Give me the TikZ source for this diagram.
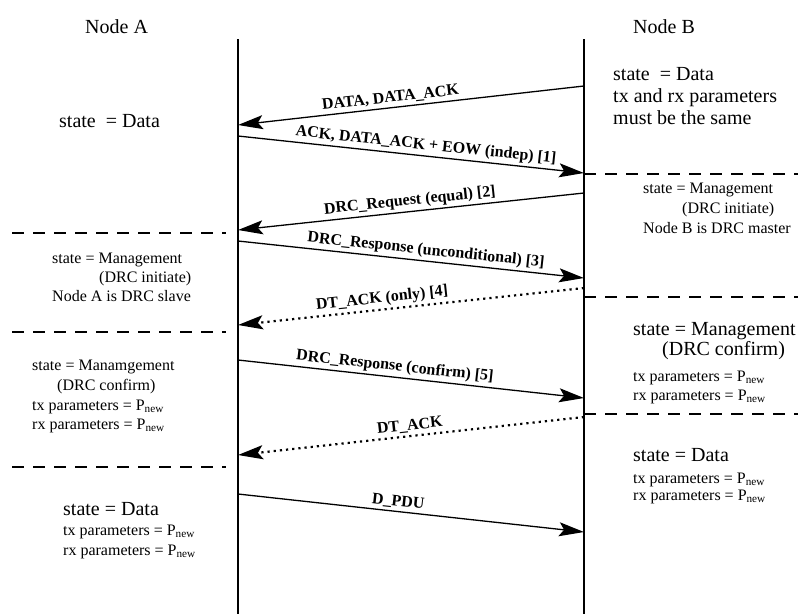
\documentclass[tikz,border=0pt]{standalone}
\usepackage{fontspec}
\setmainfont{Liberation Serif}
\usetikzlibrary{arrows.meta}
\newcommand\Pnw{P\textsubscript{new}}
\begin{document}
\begin{tikzpicture}[x=1pt,y=-1pt,
  bigtxt/.style={font=\fontsize{20}{24}\selectfont, inner sep=0pt, anchor=base west},
  smalltxt/.style={font=\fontsize{16}{19}\selectfont, inner sep=0pt, anchor=base west},
  lbl/.style={font=\fontsize{16}{19}\selectfont\bfseries, sloped, above, inner sep=2.5pt},
  life/.style={line width=1.5pt},
  msg/.style={line width=1.3pt, -{Stealth[length=25pt,width=14pt,inset=5pt]}},
  dotmsg/.style={msg, dash pattern=on 2.2pt off 4pt, line width=2.2pt},
  sep/.style={line width=2pt, dash pattern=on 12pt off 9pt}]
\useasboundingbox (0,0) rectangle (798,614);
% lifelines
\coordinate (Atop) at (238,39); \coordinate (Abot) at (238,614);
\coordinate (Btop) at (584,39); \coordinate (Bbot) at (584,614);
\draw[life] (Atop) -- (Abot);
\draw[life] (Btop) -- (Bbot);
% headers
\node[bigtxt] (hA) at (85,33) {Node A};
\node[bigtxt] (hB) at (633,33) {Node B};
% message end points
\coordinate (b1) at (584,86);  \coordinate (a1) at (238,125);
\coordinate (a2) at (238,136); \coordinate (b2) at (584,173);
\coordinate (b3) at (584,193); \coordinate (a3) at (238,230);
\coordinate (a4) at (238,241); \coordinate (b4) at (584,278);
\coordinate (b5) at (584,288); \coordinate (a5) at (238,325);
\coordinate (a6) at (238,360); \coordinate (b6) at (584,398);
\coordinate (b7) at (584,417); \coordinate (a7) at (238,455);
\coordinate (a8) at (238,494); \coordinate (b8) at (584,532);
% messages
\draw[msg] (b1) -- node[lbl,pos=0.556]{DATA, DATA\_ACK} (a1);
\draw[msg] (a2) -- node[lbl,pos=0.54]{ACK, DATA\_ACK + EOW (indep) [1]} (b2);
\draw[msg] (b3) -- node[lbl,pos=0.5]{DRC\_Request (equal) [2]} (a3);
\draw[msg] (a4) -- node[lbl,pos=0.54]{DRC\_Response (unconditional) [3]} (b4);
\draw[dotmsg] (b5) -- node[lbl,pos=0.58]{DT\_ACK (only) [4]} (a5);
\draw[msg] (a6) -- node[lbl,pos=0.45]{DRC\_Response (confirm) [5]} (b6);
\draw[dotmsg] (b7) -- node[lbl,pos=0.5]{DT\_ACK} (a7);
\draw[msg] (a8) -- node[lbl,pos=0.46]{D\_PDU} (b8);
% separators
\coordinate (l1s) at (12,233); \coordinate (l1e) at (226,233);
\coordinate (l2s) at (12,332); \coordinate (l2e) at (226,332);
\coordinate (l3s) at (12,467); \coordinate (l3e) at (226,467);
\coordinate (r1s) at (584,174); \coordinate (r1e) at (798,174);
\coordinate (r2s) at (584,297); \coordinate (r2e) at (798,297);
\coordinate (r3s) at (584,414); \coordinate (r3e) at (798,414);
\draw[sep] (l1s) -- (l1e);
\draw[sep] (l2s) -- (l2e);
\draw[sep] (l3s) -- (l3e);
\draw[sep] (r1s) -- (r1e);
\draw[sep] (r2s) -- (r2e);
\draw[sep] (r3s) -- (r3e);
% left states
\node[bigtxt] (la1) at (59,127) {state~ = Data};
\node[smalltxt] (la2) at (52,263) {state = Management};
\node[smalltxt] (la3) at (99,282) {(DRC initiate)};
\node[smalltxt] (la4) at (52,301) {Node A is DRC slave};
\node[smalltxt] (la5) at (32,370) {state = Manamgement};
\node[smalltxt] (la6) at (57,390) {(DRC confirm)};
\node[smalltxt] (la7) at (32,410) {tx parameters = \Pnw};
\node[smalltxt] (la8) at (32,429) {rx parameters = \Pnw};
\node[bigtxt] (la9) at (63,515) {state = Data};
\node[smalltxt] (la10) at (63,535) {tx parameters = \Pnw};
\node[smalltxt] (la11) at (63,555) {rx parameters = \Pnw};
% right states
\node[bigtxt] (rb1) at (613,80) {state~ = Data};
\node[bigtxt] (rb2) at (613,102) {tx and rx parameters};
\node[bigtxt] (rb3) at (613,124) {must be the same};
\node[smalltxt] (rb4) at (643,193) {state = Management};
\node[smalltxt] (rb5) at (682,213) {(DRC initiate)};
\node[smalltxt] (rb6) at (643,233) {Node B is DRC master};
\node[bigtxt] (rb7) at (633,335) {state = Management};
\node[bigtxt] (rb8) at (662,355) {(DRC confirm)};
\node[smalltxt] (rb9) at (633,381) {tx parameters = \Pnw};
\node[smalltxt] (rb10) at (633,400) {rx parameters = \Pnw};
\node[bigtxt] (rb11) at (633,461) {state = Data};
\node[smalltxt] (rb12) at (633,483) {tx parameters = \Pnw};
\node[smalltxt] (rb13) at (633,500) {rx parameters = \Pnw};
\end{tikzpicture}
\end{document}
